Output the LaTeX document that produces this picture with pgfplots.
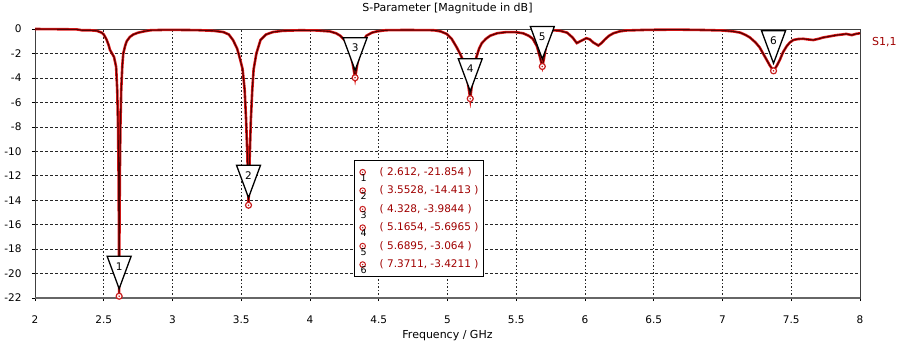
\documentclass[border=0pt]{standalone}
\usepackage{fontspec}
\setmainfont{DejaVu Sans}
\usepackage{pgfplots}
\usepackage{pgfplotstable}
\pgfplotsset{compat=1.18}

\definecolor{halo}{RGB}{225,25,25}
\definecolor{core}{RGB}{80,0,0}
\definecolor{mkred}{RGB}{200,30,30}
\definecolor{txtred}{RGB}{160,0,0}

\newcommand\mkfont{\fontsize{10.5}{12}\selectfont}
\newcommand\defcst[1]{%
\pgfdeclareplotmark{cst#1}{%
  \draw[black, fill=white, line width=1.3pt] (-12pt,40pt) -- (12pt,40pt) -- (0pt,7.5pt) -- cycle;
  \node[text=black, font=\mkfont, inner sep=0, draw=none, fill=none] at (0pt,30pt) {#1};
  \draw[mkred, fill=white, line width=1.2pt] (0pt,0pt) circle (3pt);
  \fill[mkred, draw=none] (0pt,0pt) circle (0.9pt);
}}
\defcst{1}\defcst{2}\defcst{3}\defcst{4}\defcst{5}\defcst{6}

\newcommand\legimg[1]{%
  \path[draw=none, fill=none] (0pt,0) -- (20pt,0);
  \draw[mkred, line width=1pt, fill=white] (5pt,0) circle (2.8pt);
  \fill[mkred, draw=none] (5pt,0) circle (0.8pt);
  \node[overlay, draw=none, text=black, font=\fontsize{9.5}{10}\selectfont, inner sep=0, anchor=north] at (6pt,-1.5pt) {#1};}

\pgfplotstableread{
x y
2.00 0
2.10 -0.01
2.20 -0.02
2.30 -0.03
2.32 -0.06
2.34 -0.1
2.40 -0.1
2.45 -0.15
2.485 -0.3
2.50 -0.45
2.52 -0.85
2.535 -1.3
2.545 -1.7
2.56 -2.0
2.575 -2.3
2.59 -3.1
2.598 -5
2.604 -8
2.608 -12
2.611 -18
2.612 -21.854
2.614 -17
2.617 -12
2.621 -8
2.627 -5
2.635 -3.0
2.642 -2.0
2.655 -1.4
2.667 -1.0
2.69 -0.65
2.715 -0.45
2.75 -0.3
2.79 -0.2
2.84 -0.1
2.95 -0.07
3.10 -0.08
3.20 -0.1
3.30 -0.15
3.37 -0.25
3.41 -0.45
3.44 -0.9
3.47 -1.6
3.49 -2.4
3.51 -3.3
3.525 -5
3.535 -7.4
3.545 -10.5
3.5528 -14.413
3.56 -11
3.57 -7.4
3.58 -5
3.59 -3.3
3.61 -2.0
3.64 -0.9
3.68 -0.45
3.73 -0.25
3.80 -0.15
3.93 -0.1
4.05 -0.12
4.145 -0.2
4.19 -0.35
4.22 -0.55
4.26 -1.0
4.29 -1.8
4.31 -2.8
4.328 -3.9844
4.345 -2.8
4.365 -1.8
4.385 -1.0
4.41 -0.55
4.45 -0.3
4.485 -0.2
4.55 -0.1
4.70 -0.08
4.90 -0.1
4.95 -0.2
4.994 -0.4
5.03 -0.8
5.067 -1.5
5.09 -2.0
5.115 -2.6
5.14 -3.8
5.1654 -5.6965
5.185 -3.8
5.20 -2.8
5.21 -2.3
5.23 -1.6
5.25 -1.15
5.28 -0.8
5.31 -0.55
5.36 -0.35
5.43 -0.25
5.49 -0.25
5.55 -0.35
5.59 -0.55
5.62 -0.8
5.65 -1.4
5.67 -2.2
5.6895 -3.064
5.70 -2.5
5.715 -1.5
5.73 -0.7
5.75 -0.25
5.77 -0.1
5.82 -0.15
5.87 -0.3
5.91 -0.7
5.94 -1.15
5.975 -0.95
6.01 -0.75
6.035 -0.85
6.06 -1.1
6.097 -1.35
6.12 -1.15
6.145 -0.85
6.175 -0.55
6.206 -0.35
6.25 -0.2
6.30 -0.12
6.45 -0.07
6.67 -0.05
6.85 -0.08
7.00 -0.12
7.08 -0.2
7.13 -0.3
7.17 -0.5
7.20 -0.7
7.24 -1.1
7.27 -1.5
7.30 -2.1
7.32 -2.5
7.345 -3.0
7.3711 -3.4211
7.395 -3.0
7.418 -2.5
7.44 -1.9
7.467 -1.4
7.49 -1.1
7.515 -0.9
7.55 -0.82
7.586 -0.8
7.62 -0.85
7.66 -0.9
7.70 -0.8
7.73 -0.7
7.78 -0.6
7.83 -0.5
7.87 -0.45
7.90 -0.4
7.94 -0.5
7.97 -0.4
8.00 -0.35
}\sparam

\begin{document}
\begin{tikzpicture}
\begin{axis}[
  at={(35pt,51pt)}, anchor=south west,
  scale only axis, width=825pt, height=269pt,
  xmin=2, xmax=8, ymin=-22, ymax=0,
  xtick={2,2.5,...,8}, ytick={-22,-20,...,0},
  /pgf/number format/assume math mode=true,
  xticklabel style={font=\fontsize{10.5}{12}\selectfont, anchor=base, yshift=-22pt},
  yticklabel style={font=\fontsize{10.5}{12}\selectfont, anchor=east, xshift=-7pt},
  tick align=outside, major tick length=3pt, tick style={black, line width=0.6pt},
  xtick pos=bottom, ytick pos=left,
  grid=major,
  x grid style={black!85, line width=0.6pt, dash pattern=on 1.5pt off 2pt},
  y grid style={black!85, line width=0.6pt, dash pattern=on 3pt off 2pt},
  axis line style={black!75, line width=0.7pt},
  title={S-Parameter [Magnitude in dB]},
  title style={at={(axis description cs:0.5,1)}, anchor=base, yshift=11.5pt, inner sep=0, font=\fontsize{11}{13}\selectfont},
  xlabel={Frequency / GHz},
  xlabel style={at={(axis description cs:0.5,0)}, anchor=base, yshift=-40pt, inner sep=0, font=\fontsize{11}{13}\selectfont},
  clip=false,
  legend style={at={(axis cs:4.32,-10.7)}, anchor=north west, draw=black, line width=1.3pt, fill=white,
    font=\fontsize{10.5}{12}\selectfont, text=txtred, inner xsep=3pt, inner ysep=5pt, row sep=5pt,
    cells={anchor=west}},
]
\addplot[halo, line width=2.6pt, forget plot] table[x=x, y=y] {\sparam};
\addplot[core, line width=1.1pt, forget plot] table[x=x, y=y] {\sparam};
\draw[black!60, line width=1.8pt] (rel axis cs:0,0) -- (rel axis cs:1,0);
\addplot[only marks, mark=cst1, legend image code/.code={\legimg{1}}] coordinates {(2.612,-21.854)};
\addlegendentry{( 2.612, -21.854 )}
\addplot[only marks, mark=cst2, legend image code/.code={\legimg{2}}] coordinates {(3.5528,-14.413)};
\addlegendentry{( 3.5528, -14.413 )}
\addplot[only marks, mark=cst3, legend image code/.code={\legimg{3}}] coordinates {(4.328,-3.9844)};
\addlegendentry{( 4.328, -3.9844 )}
\addplot[only marks, mark=cst4, legend image code/.code={\legimg{4}}] coordinates {(5.1654,-5.6965)};
\addlegendentry{( 5.1654, -5.6965 )}
\addplot[only marks, mark=cst5, legend image code/.code={\legimg{5}}] coordinates {(5.6895,-3.064)};
\addlegendentry{( 5.6895, -3.064 )}
\addplot[only marks, mark=cst6, legend image code/.code={\legimg{6}}] coordinates {(7.3711,-3.4211)};
\addlegendentry{( 7.3711, -3.4211 )}
\node[anchor=west, text=txtred, font=\fontsize{11}{13}\selectfont, inner sep=0] at (rel axis cs:1,0.952) [xshift=12pt] {S1,1};
\end{axis}
\path (0,0) rectangle (899pt,349pt);
\end{tikzpicture}
\end{document}
